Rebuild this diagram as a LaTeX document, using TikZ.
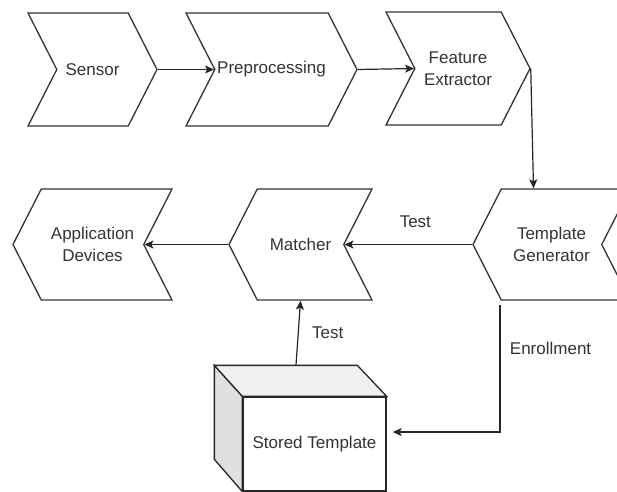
\documentclass[tikz,border=0pt]{standalone}
\usepackage{fontspec}
\setmainfont{Liberation Sans}
\usetikzlibrary{shapes.symbols,arrows.meta}

\begin{document}
\begin{tikzpicture}[x=1pt,y=-1pt,>={Stealth[length=9pt,width=8pt,inset=2pt]},
  chev/.style={signal,draw=black!80,line width=1.3pt,signal pointer angle=126,
    minimum height=113,align=center,inner sep=0pt,text=black!80,
    font=\fontsize{17}{22.5}\selectfont},
  fwd/.style={chev,signal to=east,signal from=west},
  bwd/.style={chev,signal to=west,signal from=east,minimum height=111},
  edge/.style={->,line width=1.2pt,black!85},
  lbl/.style={text=black!80,font=\fontsize{17}{22.5}\selectfont}]
\useasboundingbox (0,0) rectangle (617,491);
% top row, left to right
\node[fwd,minimum width=129] (sensor) at (92.5,69.5) {Sensor};
\node[fwd,minimum width=171] (pre) at (271.5,69.5) {Preprocessing};
\node[fwd,minimum width=144] (feat) at (458,68.5) {Feature\\Extractor};
% bottom row, right to left
\node[bwd,minimum width=157] (gen) at (551.5,244.5) {Template\\Generator};
\node[bwd,minimum width=143] (match) at (300.5,244.5) {Matcher};
\node[bwd,minimum width=159] (app) at (92.5,244.5) {Application\\Devices};
% database box
\node[draw=black!85,line width=1.3pt,fill=white,minimum width=143,minimum height=94,
  inner sep=0pt,lbl] (store) at (314.5,444) {Stored Template};
\draw[black!85,line width=1.3pt,fill=black!12] (store.north west) -- ++(-28,-31) -- ++(0,94) -- (store.south west) -- cycle;
\draw[black!85,line width=1.3pt,fill=black!6] (store.north west) -- ++(-28,-31) -- ++(143,0) -- (store.north east) -- cycle;
\coordinate (stTop) at (296,365);
\coordinate (genOut) at (500,305);
\draw[edge] (sensor.east) -- (pre.west);
\draw[edge] (pre.east) -- (feat.west);
\draw[edge] (feat.east) -- ([xshift=-18]gen.north);
\draw[edge] (gen.west) -- (match.east) node[midway,above=13pt,xshift=7pt,lbl]{Test};
\draw[edge] (match.west) -- (app.east);
\draw[edge] (stTop) -- (match.south) node[midway,right=10pt,lbl]{Test};
\draw[edge] (genOut) -- (500,432) node[pos=0.34,right=6pt,lbl]{Enrollment} -- ([shift={(6,-12)}]store.east);
\end{tikzpicture}
\end{document}
